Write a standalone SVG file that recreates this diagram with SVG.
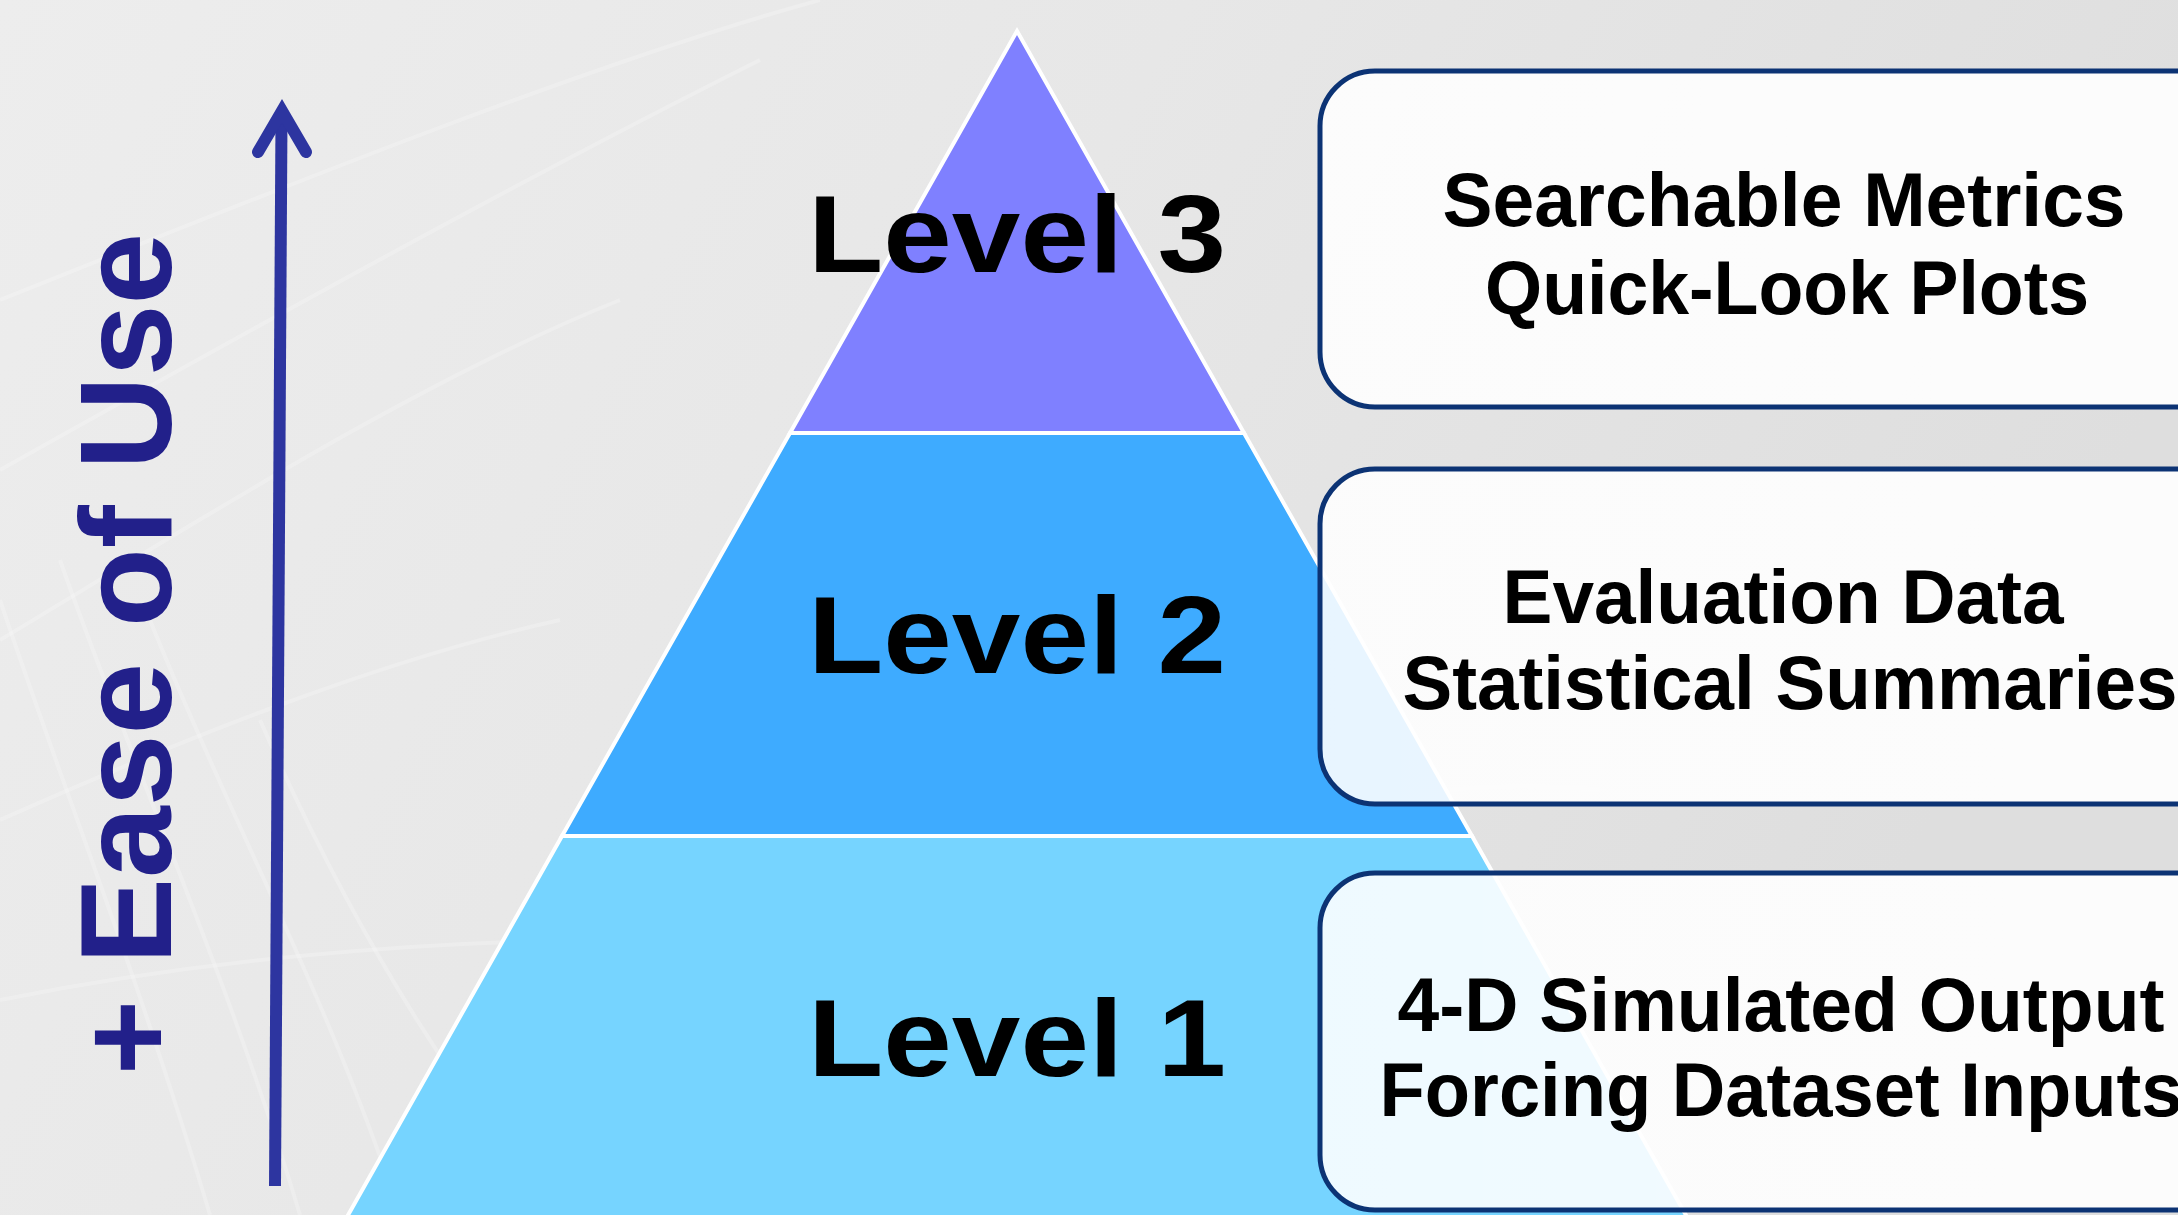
<svg xmlns="http://www.w3.org/2000/svg" width="2178" height="1215" viewBox="0 0 2178 1215">
  <defs>
    <linearGradient id="bg" x1="0" y1="0" x2="1" y2="0.3">
      <stop offset="0" stop-color="#ededed"/>
      <stop offset="0.5" stop-color="#e7e7e7"/>
      <stop offset="1" stop-color="#dedede"/>
    </linearGradient>
    <linearGradient id="boxfill" x1="0" y1="0" x2="1" y2="0">
      <stop offset="0" stop-color="#ffffff" stop-opacity="0.88"/>
      <stop offset="1" stop-color="#ffffff" stop-opacity="0.92"/>
    </linearGradient>
  </defs>
  <style>
    .wave { fill: none; stroke: #ffffff; stroke-opacity: 0.22; stroke-width: 4; }
    .tier { stroke: #ffffff; stroke-width: 4; stroke-linejoin: miter; }
    .lvl { font-family: "Liberation Sans", Arial, sans-serif; font-weight: bold; font-size: 109px; fill: #000000; }
    .box { fill: url(#boxfill); stroke: #0c3374; stroke-width: 5; }
    .btxt { font-family: "Liberation Sans", Arial, sans-serif; font-weight: bold; font-size: 76px; fill: #000000; text-anchor: middle; }
    .axis { fill: none; stroke: #2d35a0; stroke-width: 12; }
    .axislabel { font-family: "Liberation Sans", Arial, sans-serif; font-weight: bold; font-size: 129px; fill: #22208a; text-anchor: middle; }
  </style>

  <g id="background">
    <rect x="0" y="0" width="2178" height="1215" fill="url(#bg)"/>
    <path class="wave" d="M0,300 C300,180 600,60 820,0"/>
    <path class="wave" d="M0,470 C250,330 520,180 760,60"/>
    <path class="wave" d="M0,640 C200,520 420,380 620,300"/>
    <path class="wave" d="M0,820 C180,740 380,660 560,620"/>
    <path class="wave" d="M0,600 C60,780 140,980 210,1215"/>
    <path class="wave" d="M60,560 C130,760 230,980 300,1215"/>
    <path class="wave" d="M150,620 C230,820 330,1000 400,1215"/>
    <path class="wave" d="M260,720 C330,880 400,1000 470,1100"/>
    <path class="wave" d="M0,1000 C200,960 420,940 620,940"/>
    <path class="wave" d="M1300,820 C1400,790 1500,780 1600,790"/>
  </g>

  <g id="level1">
    <polygon class="tier" fill="#76d4ff" points="562,836 1472,836 1700,1240 334,1240"/>
    <text class="lvl" x="808" y="1076" textLength="418" lengthAdjust="spacingAndGlyphs">Level 1</text>
  </g>
  <g id="level2">
    <polygon class="tier" fill="#3eabff" points="790,433 1244,433 1472,836 562,836"/>
    <text class="lvl" x="808" y="673" textLength="418" lengthAdjust="spacingAndGlyphs">Level 2</text>
  </g>
  <g id="level3">
    <polygon class="tier" fill="#7f80ff" points="1017,31 1244,433 790,433"/>
    <text class="lvl" x="808" y="272" textLength="418" lengthAdjust="spacingAndGlyphs">Level 3</text>
  </g>

  <g id="box-level3">
    <rect class="box" x="1320" y="71" width="950" height="336" rx="55" ry="55"/>
    <text class="btxt" x="1784" y="226" textLength="683" lengthAdjust="spacingAndGlyphs">Searchable Metrics</text>
    <text class="btxt" x="1787" y="314" textLength="604" lengthAdjust="spacingAndGlyphs">Quick-Look Plots</text>
  </g>
  <g id="box-level2">
    <rect class="box" x="1320" y="469" width="950" height="335" rx="55" ry="55"/>
    <text class="btxt" x="1783" y="623" textLength="561" lengthAdjust="spacingAndGlyphs">Evaluation Data</text>
    <text class="btxt" x="1790" y="709" textLength="775" lengthAdjust="spacingAndGlyphs">Statistical Summaries</text>
  </g>
  <g id="box-level1">
    <rect class="box" x="1320" y="873" width="950" height="337" rx="55" ry="55"/>
    <text class="btxt" x="1781" y="1031" textLength="767" lengthAdjust="spacingAndGlyphs">4-D Simulated Output</text>
    <text class="btxt" x="1781" y="1116" textLength="803" lengthAdjust="spacingAndGlyphs">Forcing Dataset Inputs</text>
  </g>

  <g id="connectors">
    <line class="axis" x1="275" y1="1186" x2="281.5" y2="118"/>
    <polyline class="axis" points="258,152 282,111 306,152" stroke-linejoin="miter" stroke-linecap="round"/>
  </g>

  <g id="axis-label">
    <text class="axislabel" transform="translate(171,654) rotate(-90)">+ Ease of Use</text>
  </g>
</svg>
